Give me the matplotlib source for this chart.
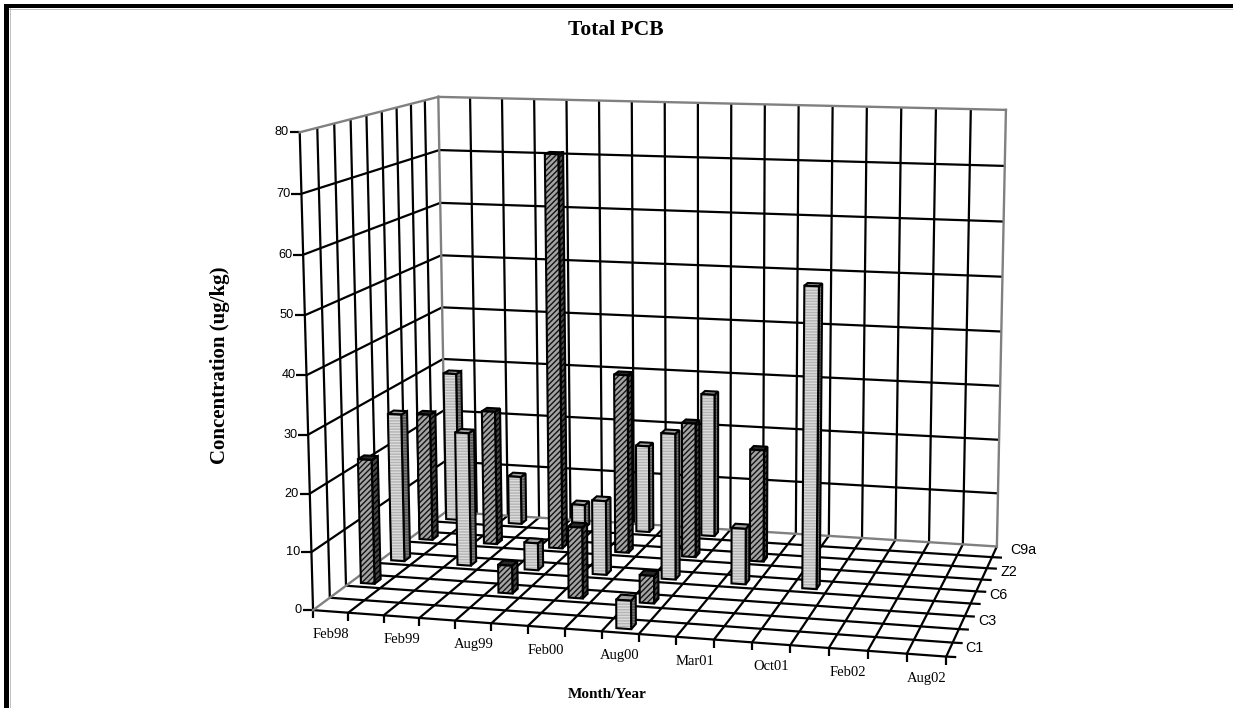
#!/usr/bin/env python3
import numpy as np
import matplotlib
matplotlib.use("Agg")
import matplotlib.pyplot as plt
from matplotlib.patches import Polygon, Rectangle

plt.rcParams['hatch.linewidth'] = 1.0

SERIF = "Liberation Serif"
SANS = "Liberation Sans"

# ---------- Data (ug/kg, nan = no sample) ----------

months = ["Feb98", "Feb99", "Aug99", "Feb00", "Aug00", "Mar01", "Oct01", "Feb02", "Aug02"]
stations = ["C1", "C3", "C6", "Z2", "C9a"]
nan = float("nan")

c1 = [nan, nan, nan, nan, 4.8, nan, nan, nan, nan]
c3 = [22.0, nan, 4.9, 12.4, 4.8, nan, nan, nan, nan]
c6 = [26.8, 24.1, 4.9, 13.3, 26.0, 9.9, 52.8, nan, nan]
z2 = [23.6, 24.8, 72.2, 32.8, 24.6, 20.4, nan, nan, nan]
c9a = [28.3, 9.1, 4.4, 16.4, 26.8, nan, nan, nan, nan]
series = [c1, c3, c6, z2, c9a]

z_ticks = [0, 10, 20, 30, 40, 50, 60, 70, 80]
z_max = 80
n_cols = 17   # grid cells along the month axis, every second one is labelled
n_rows = 9    # same along the station axis

# ---------- Projection, calibrated on the corners of the plot box ----------

# (u, v, w) unit box -> pixel position in the image
box_corners = [
    ((0, 0, 0), (313, 610)),
    ((1, 0, 0), (946, 657)),
    ((1, 1, 0), (997, 546)),
    ((0, 1, 0), (446, 512)),
    ((0, 0, 1), (300, 132)),
    ((0, 1, 1), (438, 97)),
    ((1, 1, 1), (1006, 110)),
]


def fit_projection(corners):
    rows, rhs = [], []
    for (u, v, w), (x, y) in corners:
        rows.append([u, v, w, 1, 0, 0, 0, 0, -x * u, -x * v, -x * w])
        rhs.append(x)
        rows.append([0, 0, 0, 0, u, v, w, 1, -y * u, -y * v, -y * w])
        rhs.append(y)
    sol = np.linalg.lstsq(np.array(rows, float), np.array(rhs, float), rcond=None)[0]
    return np.append(sol, 1.0).reshape(3, 4)


P = fit_projection(box_corners)


def project(col, row, value):
    """Grid column, grid row and concentration to image pixels."""
    p = P @ np.array([col / n_cols, row / n_rows, value / z_max, 1.0])
    return p[0] / p[2], p[1] / p[2]


fig = plt.figure(figsize=(12.33, 7.08), dpi=100)
ax = fig.add_axes([0, 0, 1, 1])
ax.set_xlim(0, 1233)
ax.set_ylim(708, 0)
ax.axis("off")

# Page frame
ax.add_patch(Rectangle((4, 3.5), 1229, 4.5, fc="black", ec="none"))
ax.add_patch(Rectangle((4, 3.5), 5, 705, fc="black", ec="none"))
ax.plot([9.5, 9.5], [8, 708], color="#c0c0c0", lw=0.7)
ax.plot([9, 1233], [8.5, 8.5], color="#c0c0c0", lw=0.7)

GRID = dict(color="black", lw=1.6, solid_capstyle="butt", zorder=1)
EDGE = dict(color="#808080", lw=1.7, solid_capstyle="projecting", zorder=1.5)


def seg(a, b, **kw):
    pa, pb = project(*a), project(*b)
    ax.plot([pa[0], pb[0]], [pa[1], pb[1]], **kw)


# Left wall and back wall
for z in z_ticks[1:-1]:
    seg((0, 0, z), (0, n_rows, z), **GRID)
    seg((0, n_rows, z), (n_cols, n_rows, z), **GRID)
for r in range(1, n_rows):
    seg((0, r, 0), (0, r, z_max), **GRID)
for c in range(1, n_cols):
    seg((c, n_rows, 0), (c, n_rows, z_max), **GRID)

# Floor
for r in range(1, n_rows):
    seg((0, r, 0), (n_cols, r, 0), **GRID)
for c in range(1, n_cols):
    seg((c, 0, 0), (c, n_rows, 0), **GRID)

# Grey outline of the walls
seg((0, 0, 0), (0, n_rows, 0), **EDGE)
seg((0, n_rows, 0), (n_cols, n_rows, 0), **EDGE)
seg((0, n_rows, 0), (0, n_rows, z_max), **EDGE)
seg((n_cols, n_rows, 0), (n_cols, n_rows, z_max), **EDGE)
seg((0, 0, z_max), (0, n_rows, z_max), **EDGE)
seg((0, n_rows, z_max), (n_cols, n_rows, z_max), **EDGE)

# Axis lines
seg((0, 0, 0), (0, 0, z_max), **GRID)
seg((0, 0, 0), (n_cols, 0, 0), **GRID)
seg((n_cols, 0, 0), (n_cols, n_rows, 0), **GRID)

# Ticks and labels
for z in z_ticks:
    x, y = project(0, 0, z)
    ax.plot([x - 10, x], [y, y], **GRID)
    ax.text(x - 11, y, str(z), ha="right", va="center", family=SANS, fontsize=9.2)
for c in range(n_cols + 1):
    x, y = project(c, 0, 0)
    ax.plot([x, x], [y, y + 8], **GRID)
for r in range(n_rows):
    x, y = project(n_cols, r, 0)
    ax.plot([x, x + 10], [y, y + 0.5], **GRID)
for i, m in enumerate(months):
    x, y = project(2 * i + 0.5, 0, 0)
    ax.text(x, y + 23, m, ha="center", va="center", family=SERIF, fontsize=10.5)
for i, s in enumerate(stations):
    x, y = project(n_cols, 2 * i + 0.5, 0)
    ax.text(x + 16, y - 2, s, ha="left", va="center", family=SANS, fontsize=10.3)

# ---------- Bars ----------

BAR_HALF = 0.2
LIGHT = dict(front=("#dcdcdc", "#b4b4b4", "------"), side=("#808080", "#505050", "------"), top="#a0a0a0")
DARK = dict(front=("#a4a4a4", "#141414", "//////"), side=("#484848", "#000000", "//////"), top="#282828")


def face(corners, fc, hatch_color=None, hatch=None, zorder=3):
    pts = [project(*c) for c in corners]
    if hatch:
        ax.add_patch(Polygon(pts, fc=fc, ec=hatch_color, hatch=hatch, lw=0, zorder=zorder))
    else:
        ax.add_patch(Polygon(pts, fc=fc, ec="none", zorder=zorder))
    ax.add_patch(Polygon(pts, fill=False, ec="black", lw=1.5, joinstyle="miter", zorder=zorder))


zo = 3.0
for s in range(len(series) - 1, -1, -1):
    style = DARK if s % 2 else LIGHT
    for m, val in enumerate(series[s]):
        if np.isnan(val):
            continue
        cx, cy = 2 * m + 0.5, 2 * s + 0.5
        c0, c1_, r0, r1 = cx - BAR_HALF, cx + BAR_HALF, cy - BAR_HALF, cy + BAR_HALF
        face([(c1_, r0, 0), (c1_, r1, 0), (c1_, r1, val), (c1_, r0, val)],
             style["side"][0], style["side"][1], style["side"][2], zo)
        face([(c0, r0, val), (c1_, r0, val), (c1_, r1, val), (c0, r1, val)], style["top"], zorder=zo)
        face([(c0, r0, 0), (c1_, r0, 0), (c1_, r0, val), (c0, r0, val)],
             style["front"][0], style["front"][1], style["front"][2], zo)
        zo += 0.01

# ---------- Titles ----------

ax.text(616, 30, "Total PCB", ha="center", va="center", family=SERIF, weight="bold", fontsize=15.5)
ax.text(220, 365, "Concentration (ug/kg)", ha="center", va="center", rotation=90,
        family=SERIF, weight="bold", fontsize=15)
ax.text(607, 694, "Month/Year", ha="center", va="center", family=SERIF, weight="bold", fontsize=11)

fig.savefig("out.png", dpi=100)
